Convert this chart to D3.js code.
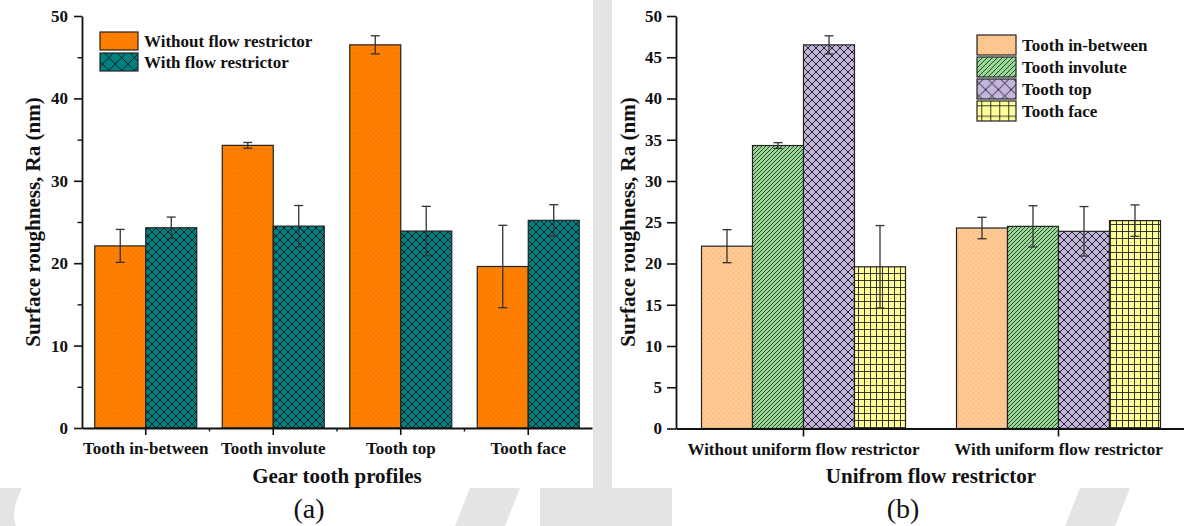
<!DOCTYPE html>
<html>
<head>
<meta charset="utf-8">
<script src="https://cdn.jsdelivr.net/npm/d3@7/dist/d3.min.js"></script>
<style>
  html, body { margin: 0; padding: 0; background: #ffffff; }
  svg { display: block; }
  text { font-family: "Liberation Serif", "Times New Roman", serif; fill: #111; }
</style>
</head>
<body>
<svg id="fig" width="1184" height="526"></svg>
<script>
// ---- data -------------------------------------------------------------
const profiles = ["Tooth in-between", "Tooth involute", "Tooth top", "Tooth face"];
const conditions = ["Without uniform flow restrictor", "With uniform flow restrictor"];
const seriesNames = ["Without flow restrictor", "With flow restrictor"];

const withoutRestrictor = [22.1, 34.3, 46.5, 19.6];
const withoutRestrictorErr = [2.0, 0.35, 1.1, 5.0];
const withRestrictor = [24.3, 24.5, 23.9, 25.2];
const withRestrictorErr = [1.3, 2.5, 3.0, 1.9];

const leftTicks = [0, 10, 20, 30, 40, 50];
const leftMinorTicks = [5, 15, 25, 35, 45];
const rightTicks = [0, 5, 10, 15, 20, 25, 30, 35, 40, 45, 50];

const yLabel = "Surface roughness, Ra (nm)";
const leftXLabel = "Gear tooth profiles";
const rightXLabel = "Unifrom flow restrictor";

// ---- canvas -----------------------------------------------------------
const svg = d3.select("#fig");
const defs = svg.append("defs");

// faint background decoration around the two panels
const deco = svg.append("g").attr("fill", "#e4e4e4");
deco.append("rect").attr("x", 593).attr("y", 0).attr("width", 19).attr("height", 526);
deco.append("rect").attr("x", 540).attr("y", 488).attr("width", 132).attr("height", 38);
deco.append("path").attr("d", "M0,488 L22,488 C14,505 12,515 16,526 L0,526 Z");
deco.append("path").attr("d", "M470,488 L520,488 L505,526 L455,526 Z");
deco.append("path").attr("d", "M1080,488 L1130,488 L1115,526 L1065,526 Z");

svg.append("rect").attr("x", 8).attr("y", 8).attr("width", 585).attr("height", 480).attr("fill", "#fff");
svg.append("rect").attr("x", 612).attr("y", 10).attr("width", 572).attr("height", 478).attr("fill", "#fff");

// ---- fill patterns ----------------------------------------------------
function dotPattern(id, base, dot, scale) {
  const p = defs.append("pattern").attr("id", id).attr("patternUnits", "userSpaceOnUse")
    .attr("width", 5).attr("height", 5).attr("patternTransform", `scale(${scale})`);
  p.append("rect").attr("width", 5).attr("height", 5).attr("fill", base);
  p.append("circle").attr("cx", 1).attr("cy", 1).attr("r", 0.45).attr("fill", dot);
  p.append("circle").attr("cx", 3.5).attr("cy", 3.5).attr("r", 0.45).attr("fill", dot);
}
function crossPattern(id, base, size, scale) {
  const p = defs.append("pattern").attr("id", id).attr("patternUnits", "userSpaceOnUse")
    .attr("width", size).attr("height", size).attr("patternTransform", `scale(${scale})`);
  p.append("rect").attr("width", size).attr("height", size).attr("fill", base);
  p.append("path").attr("d", `M0,0 L${size},${size} M${size},0 L0,${size}`)
    .attr("stroke", "#111").attr("stroke-width", 0.9 / scale).attr("fill", "none");
}
function slashPattern(id, base, size, scale) {
  const p = defs.append("pattern").attr("id", id).attr("patternUnits", "userSpaceOnUse")
    .attr("width", size).attr("height", size).attr("patternTransform", `scale(${scale})`);
  p.append("rect").attr("width", size).attr("height", size).attr("fill", base);
  p.append("path").attr("d", `M0,${size} L${size},0 M-1,1 L1,-1 M${size - 1},${size + 1} L${size + 1},${size - 1}`)
    .attr("stroke", "#1d2e1d").attr("stroke-width", 0.85 / scale).attr("fill", "none");
}
function gridPattern(id, base, w, h, scale) {
  const p = defs.append("pattern").attr("id", id).attr("patternUnits", "userSpaceOnUse")
    .attr("width", w).attr("height", h).attr("patternTransform", `scale(${scale})`);
  p.append("rect").attr("width", w).attr("height", h).attr("fill", base);
  p.append("path").attr("d", `M0,0.5 H${w} M0.5,0 V${h}`)
    .attr("stroke", "#222").attr("stroke-width", 0.9 / scale).attr("fill", "none");
}

const orange = "#ff8000", teal = "#008080";
const peach = "#fdc892", green = "#97d897", violet = "#c4b5dd", yellow = "#ffff99";

dotPattern("pOrange", orange, "#c96400", 1);
crossPattern("pTeal", teal, 8, 1);
dotPattern("pPeach", peach, "#d99a60", 1);
slashPattern("pGreen", green, 4, 1);
crossPattern("pViolet", violet, 8, 1);
gridPattern("pYellow", yellow, 6, 7, 1);

crossPattern("lTeal", teal, 8, 1.6);
slashPattern("lGreen", green, 4, 1.25);
crossPattern("lViolet", violet, 8, 1.6);
gridPattern("lYellow", yellow, 6, 7, 1.5);

const leftFills = ["url(#pOrange)", "url(#pTeal)"];
const leftLegendFills = ["url(#pOrange)", "url(#lTeal)"];
const rightFills = ["url(#pPeach)", "url(#pGreen)", "url(#pViolet)", "url(#pYellow)"];
const rightLegendFills = ["url(#pPeach)", "url(#lGreen)", "url(#lViolet)", "url(#lYellow)"];

function styleAxis(g, size) {
  g.select(".domain").attr("stroke", "#111").attr("stroke-width", 1.8);
  g.selectAll(".tick line").attr("stroke", "#111").attr("stroke-width", 1.6);
  g.selectAll(".tick text").style("font-size", size + "px").style("font-weight", "bold")
    .style("font-family", '"Liberation Serif", "Times New Roman", serif').attr("fill", "#111");
}

function errorBars(g, data) {
  const eb = g.append("g").attr("stroke", "#333").attr("stroke-width", 1.3).attr("fill", "none");
  data.forEach(d => {
    eb.append("line").attr("x1", d.cx).attr("x2", d.cx).attr("y1", d.y(d.v + d.e)).attr("y2", d.y(d.v - d.e));
    eb.append("line").attr("x1", d.cx - 4.5).attr("x2", d.cx + 4.5).attr("y1", d.y(d.v + d.e)).attr("y2", d.y(d.v + d.e));
    eb.append("line").attr("x1", d.cx - 4.5).attr("x2", d.cx + 4.5).attr("y1", d.y(d.v - d.e)).attr("y2", d.y(d.v - d.e));
  });
}

// ---- panel (a): grouped by tooth profile ------------------------------
{
  const g = svg.append("g");
  const x = d3.scaleBand().domain(profiles).range([82, 592]).paddingInner(0).paddingOuter(0);
  const y = d3.scaleLinear().domain([0, 50]).range([428, 16]);
  const xs = d3.scaleBand().domain(seriesNames).range([0, x.bandwidth()]).paddingInner(0).paddingOuter(0.25);

  const series = [
    { name: seriesNames[0], values: withoutRestrictor, errs: withoutRestrictorErr, fill: leftFills[0] },
    { name: seriesNames[1], values: withRestrictor, errs: withRestrictorErr, fill: leftFills[1] }
  ];
  const bars = [];
  series.forEach(s => profiles.forEach((p, i) => bars.push({ p, s: s.name, v: s.values[i], e: s.errs[i], fill: s.fill })));

  g.append("g").selectAll("rect").data(bars).join("rect")
    .attr("x", d => x(d.p) + xs(d.s))
    .attr("y", d => y(d.v))
    .attr("width", xs.bandwidth())
    .attr("height", d => y(0) - y(d.v))
    .attr("fill", d => d.fill)
    .attr("stroke", "#222").attr("stroke-width", 1.2);

  errorBars(g, bars.map(d => ({ cx: x(d.p) + xs(d.s) + xs.bandwidth() / 2, v: d.v, e: d.e, y })));

  // axes
  const ya = g.append("g").attr("transform", "translate(82,0)")
    .call(d3.axisLeft(y).tickValues(leftTicks).tickSize(8).tickSizeOuter(0).tickPadding(6).tickFormat(d3.format("d")));
  styleAxis(ya, 17);
  const ym = g.append("g").attr("transform", "translate(82,0)")
    .call(d3.axisLeft(y).tickValues(leftMinorTicks).tickSize(4.5).tickSizeOuter(0).tickFormat(""));
  ym.select(".domain").remove();
  ym.selectAll(".tick line").attr("stroke", "#111").attr("stroke-width", 1.4);

  const xa = g.append("g").attr("transform", "translate(0,428)")
    .call(d3.axisBottom(x).tickSize(7).tickSizeOuter(0).tickPadding(7));
  styleAxis(xa, 17);
  // short ticks between profile groups
  g.append("g").selectAll("line").data(profiles.slice(1)).join("line")
    .attr("x1", d => x(d)).attr("x2", d => x(d)).attr("y1", 428).attr("y2", 431.5)
    .attr("stroke", "#111").attr("stroke-width", 1.4);

  g.append("text").attr("x", (82 + 592) / 2).attr("y", 483).attr("text-anchor", "middle")
    .style("font-size", "21px").style("font-weight", "bold").text(leftXLabel);
  g.append("text").attr("transform", "translate(40,222) rotate(-90)").attr("text-anchor", "middle")
    .style("font-size", "21px").style("font-weight", "bold").text(yLabel);

  // legend
  const lg = g.append("g");
  seriesNames.forEach((n, i) => {
    lg.append("rect").attr("x", 100).attr("y", 32 + i * 21).attr("width", 38).attr("height", 18)
      .attr("fill", leftLegendFills[i]).attr("stroke", "#222").attr("stroke-width", 1.2);
    lg.append("text").attr("x", 144).attr("y", 41 + i * 21).attr("dominant-baseline", "central")
      .style("font-size", "17px").style("font-weight", "bold").text(n);
  });

  svg.append("text").attr("x", 309).attr("y", 518).attr("text-anchor", "middle")
    .style("font-size", "28px").text("(a)");
}

// ---- panel (b): grouped by restrictor condition -----------------------
{
  const g = svg.append("g");
  const x = d3.scaleBand().domain(conditions).range([676, 1186]).paddingInner(0).paddingOuter(0);
  const y = d3.scaleLinear().domain([0, 50]).range([428.5, 16]);
  const xs = d3.scaleBand().domain(profiles).range([0, x.bandwidth()]).paddingInner(0).paddingOuter(0.5);

  const byCondition = [
    { c: conditions[0], values: withoutRestrictor, errs: withoutRestrictorErr },
    { c: conditions[1], values: withRestrictor, errs: withRestrictorErr }
  ];
  const bars = [];
  byCondition.forEach(k => profiles.forEach((p, i) => bars.push({ c: k.c, p, v: k.values[i], e: k.errs[i], fill: rightFills[i] })));

  g.append("g").selectAll("rect").data(bars).join("rect")
    .attr("x", d => x(d.c) + xs(d.p))
    .attr("y", d => y(d.v))
    .attr("width", xs.bandwidth())
    .attr("height", d => y(0) - y(d.v))
    .attr("fill", d => d.fill)
    .attr("stroke", "#222").attr("stroke-width", 1.2);

  errorBars(g, bars.map(d => ({ cx: x(d.c) + xs(d.p) + xs.bandwidth() / 2, v: d.v, e: d.e, y })));

  const ya = g.append("g").attr("transform", "translate(676,0)")
    .call(d3.axisLeft(y).tickValues(rightTicks).tickSize(9).tickSizeOuter(0).tickPadding(5).tickFormat(d3.format("d")));
  styleAxis(ya, 17);

  const xa = g.append("g").attr("transform", "translate(0,428.5)")
    .call(d3.axisBottom(x).tickSize(8).tickSizeOuter(0).tickPadding(6));
  styleAxis(xa, 17);

  g.append("text").attr("x", (676 + 1186) / 2).attr("y", 483).attr("text-anchor", "middle")
    .style("font-size", "21px").style("font-weight", "bold").text(rightXLabel);
  g.append("text").attr("transform", "translate(635,222) rotate(-90)").attr("text-anchor", "middle")
    .style("font-size", "21px").style("font-weight", "bold").text(yLabel);

  const lg = g.append("g");
  profiles.forEach((n, i) => {
    lg.append("rect").attr("x", 977).attr("y", 35 + i * 22).attr("width", 39).attr("height", 20)
      .attr("fill", rightLegendFills[i]).attr("stroke", "#222").attr("stroke-width", 1.2);
    lg.append("text").attr("x", 1022).attr("y", 45 + i * 22).attr("dominant-baseline", "central")
      .style("font-size", "17px").style("font-weight", "bold").text(n);
  });

  svg.append("text").attr("x", 903).attr("y", 518).attr("text-anchor", "middle")
    .style("font-size", "28px").text("(b)");
}
</script>
</body>
</html>
